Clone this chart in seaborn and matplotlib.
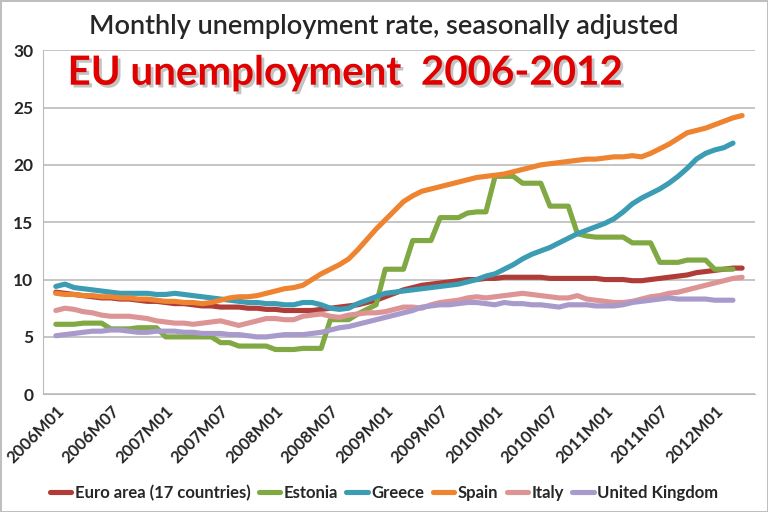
import matplotlib
matplotlib.use("Agg")
import matplotlib.pyplot as plt
import matplotlib.patheffects as pe
import seaborn as sns
import numpy as np
import pandas as pd


# month labels, 2006M01 .. 2012M04
MONTHS = [f"{y}M{m:02d}" for y in range(2006, 2013) for m in range(1, 13)][:76]
TICK_LABELS = MONTHS[::6]

COUNTRIES = ["Euro area (17 countries)", "Estonia", "Greece", "Spain", "Italy", "United Kingdom"]
COLORS = ["#B03C38", "#80A843", "#3B9CB4", "#EE8330", "#DD9494", "#A89BCB"]

euro_area = [
    8.9, 8.8, 8.7, 8.6, 8.5, 8.4, 8.4, 8.3, 8.3, 8.2, 8.1, 8.1,
    8.0, 7.9, 7.9, 7.8, 7.7, 7.7, 7.6, 7.6, 7.6, 7.5, 7.5, 7.4,
    7.4, 7.3, 7.3, 7.3, 7.3, 7.4, 7.5, 7.6, 7.7, 7.8, 8.0, 8.2,
    8.5, 8.8, 9.1, 9.3, 9.5, 9.6, 9.7, 9.8, 9.9, 10.0, 10.0, 10.1,
    10.1, 10.2, 10.2, 10.2, 10.2, 10.2, 10.1, 10.1, 10.1, 10.1, 10.1, 10.1,
    10.0, 10.0, 10.0, 9.9, 9.9, 10.0, 10.1, 10.2, 10.3, 10.4, 10.6, 10.7,
    10.8, 10.9, 11.0, 11.0,
]

estonia = [
    6.1, 6.1, 6.1, 6.2, 6.2, 6.2, 5.7, 5.7, 5.7, 5.8, 5.8, 5.8,
    5.0, 5.0, 5.0, 5.0, 5.0, 5.0, 4.5, 4.5, 4.2, 4.2, 4.2, 4.2,
    3.9, 3.9, 3.9, 4.0, 4.0, 4.0, 6.5, 6.5, 6.5, 7.0, 7.4, 7.8,
    10.9, 10.9, 10.9, 13.4, 13.4, 13.4, 15.4, 15.4, 15.4, 15.8, 15.9, 15.9,
    19.0, 19.0, 19.0, 18.4, 18.4, 18.4, 16.4, 16.4, 16.4, 14.0, 13.8, 13.7,
    13.7, 13.7, 13.7, 13.2, 13.2, 13.2, 11.5, 11.5, 11.5, 11.7, 11.7, 11.7,
    10.9, 10.9, 10.9,
]

greece = [
    9.4, 9.6, 9.3, 9.2, 9.1, 9.0, 8.9, 8.8, 8.8, 8.8, 8.8, 8.7,
    8.7, 8.8, 8.7, 8.6, 8.5, 8.4, 8.3, 8.2, 8.1, 8.0, 8.0, 7.9,
    7.9, 7.8, 7.8, 8.0, 8.0, 7.8, 7.5, 7.4, 7.5, 7.9, 8.2, 8.5,
    8.8, 8.9, 9.0, 9.1, 9.2, 9.3, 9.4, 9.5, 9.6, 9.8, 10.0, 10.3,
    10.5, 10.9, 11.3, 11.8, 12.2, 12.5, 12.8, 13.2, 13.6, 14.0, 14.3, 14.6,
    14.9, 15.3, 15.9, 16.6, 17.1, 17.5, 17.9, 18.4, 19.0, 19.7, 20.5, 21.0,
    21.3, 21.5, 21.9,
]

spain = [
    8.8, 8.7, 8.7, 8.6, 8.6, 8.5, 8.5, 8.4, 8.4, 8.3, 8.3, 8.2,
    8.1, 8.1, 8.0, 8.0, 7.9, 8.0, 8.2, 8.4, 8.5, 8.5, 8.6, 8.8,
    9.0, 9.2, 9.3, 9.5, 10.0, 10.5, 10.9, 11.3, 11.8, 12.6, 13.5, 14.4,
    15.2, 16.0, 16.8, 17.3, 17.7, 17.9, 18.1, 18.3, 18.5, 18.7, 18.9, 19.0,
    19.1, 19.2, 19.4, 19.6, 19.8, 20.0, 20.1, 20.2, 20.3, 20.4, 20.5, 20.5,
    20.6, 20.7, 20.7, 20.8, 20.7, 21.0, 21.4, 21.8, 22.3, 22.8, 23.0, 23.2,
    23.5, 23.8, 24.1, 24.3,
]

italy = [
    7.3, 7.5, 7.4, 7.2, 7.1, 6.9, 6.8, 6.8, 6.8, 6.7, 6.6, 6.4,
    6.3, 6.2, 6.2, 6.1, 6.2, 6.3, 6.4, 6.2, 6.0, 6.2, 6.4, 6.6,
    6.6, 6.5, 6.5, 6.8, 6.9, 7.0, 6.8, 6.7, 6.9, 7.0, 7.1, 7.1,
    7.2, 7.4, 7.6, 7.6, 7.5, 7.8, 8.0, 8.1, 8.2, 8.4, 8.5, 8.4,
    8.5, 8.6, 8.7, 8.8, 8.7, 8.6, 8.5, 8.4, 8.4, 8.6, 8.3, 8.2,
    8.1, 8.0, 8.0, 8.1, 8.3, 8.5, 8.6, 8.8, 8.9, 9.1, 9.3, 9.5,
    9.7, 9.9, 10.1, 10.2,
]

united_kingdom = [
    5.1, 5.2, 5.3, 5.4, 5.5, 5.5, 5.6, 5.6, 5.5, 5.4, 5.4, 5.5,
    5.5, 5.5, 5.4, 5.4, 5.3, 5.3, 5.3, 5.2, 5.2, 5.1, 5.0, 5.0,
    5.1, 5.2, 5.2, 5.2, 5.3, 5.4, 5.6, 5.8, 5.9, 6.1, 6.3, 6.5,
    6.7, 6.9, 7.1, 7.3, 7.6, 7.7, 7.8, 7.8, 7.9, 8.0, 8.0, 7.9,
    7.8, 8.0, 7.9, 7.9, 7.8, 7.8, 7.7, 7.6, 7.8, 7.8, 7.8, 7.7,
    7.7, 7.7, 7.8, 8.0, 8.1, 8.2, 8.3, 8.4, 8.3, 8.3, 8.3, 8.3,
    8.2, 8.2, 8.2,
]

SERIES = [euro_area, estonia, greece, spain, italy, united_kingdom]


def build_df():
    frames = []
    for name, values in zip(COUNTRIES, SERIES):
        frames.append(
            pd.DataFrame(
                {
                    "month": MONTHS[: len(values)],
                    "idx": np.arange(len(values)),
                    "rate": values,
                    "country": name,
                }
            )
        )
    return pd.concat(frames, ignore_index=True)


def main():
    df = build_df()

    sns.set_style("white")
    plt.rcParams["font.family"] = ["Lato", "DejaVu Sans"]

    fig = plt.figure(figsize=(7.68, 5.12), dpi=100)
    fig.patch.set_edgecolor("#BFBFBF")
    fig.patch.set_linewidth(2)
    ax = fig.add_axes([0.056, 0.230, 0.927, 0.672])

    sns.lineplot(
        data=df,
        x="idx",
        y="rate",
        hue="country",
        hue_order=COUNTRIES,
        palette=COLORS,
        linewidth=3.7,
        ax=ax,
        legend=True,
    )

    ax.set_ylim(0, 30)
    ax.set_xlim(-1.4, 76.4)
    ax.set_yticks(range(0, 31, 5))
    ax.set_yticklabels([str(v) for v in range(0, 31, 5)], fontsize=12.5, fontweight="bold")
    ax.set_xticks(range(0, 76, 6))
    ax.set_xticklabels(
        TICK_LABELS, rotation=45, ha="right", rotation_mode="anchor",
        fontsize=12, fontweight="bold",
    )
    ax.set_xticks(np.arange(-0.5, 76.5, 1), minor=True)
    ax.tick_params(axis="x", which="both", length=4, color="#BBBBBB", direction="inout")
    ax.tick_params(axis="y", length=0, pad=7)
    ax.tick_params(axis="x", which="major", pad=4)
    ax.yaxis.grid(True, color="#BBBBBB", linewidth=1.2)
    ax.set_axisbelow(True)
    ax.set_xlabel("")
    ax.set_ylabel("")
    for side in ["top", "right"]:
        ax.spines[side].set_visible(False)
    ax.spines["left"].set_color("#BBBBBB")
    ax.spines["bottom"].set_color("#BBBBBB")

    handles, labels = ax.get_legend_handles_labels()
    ax.legend(
        handles, labels,
        loc="center", bbox_to_anchor=(0.5, 0.037), bbox_transform=fig.transFigure,
        ncol=6, frameon=False, handlelength=1.3, handletextpad=0.2,
        columnspacing=0.5, prop={"weight": "bold", "size": 12},
    )

    fig.text(
        0.5, 0.948, "Monthly unemployment rate, seasonally adjusted",
        ha="center", va="center", fontsize=19.5, fontweight="semibold",
    )
    fig.text(
        0.088, 0.857, "EU unemployment  2006-2012",
        ha="left", va="center", fontsize=29, fontweight="bold", color="#E00000",
        path_effects=[
            pe.withSimplePatchShadow(offset=(2, -2), shadow_rgbFace="#888888", alpha=0.5)
        ],
    )

    fig.savefig("out.png", dpi=100, edgecolor=fig.get_edgecolor())
    plt.close(fig)


if __name__ == "__main__":
    main()
